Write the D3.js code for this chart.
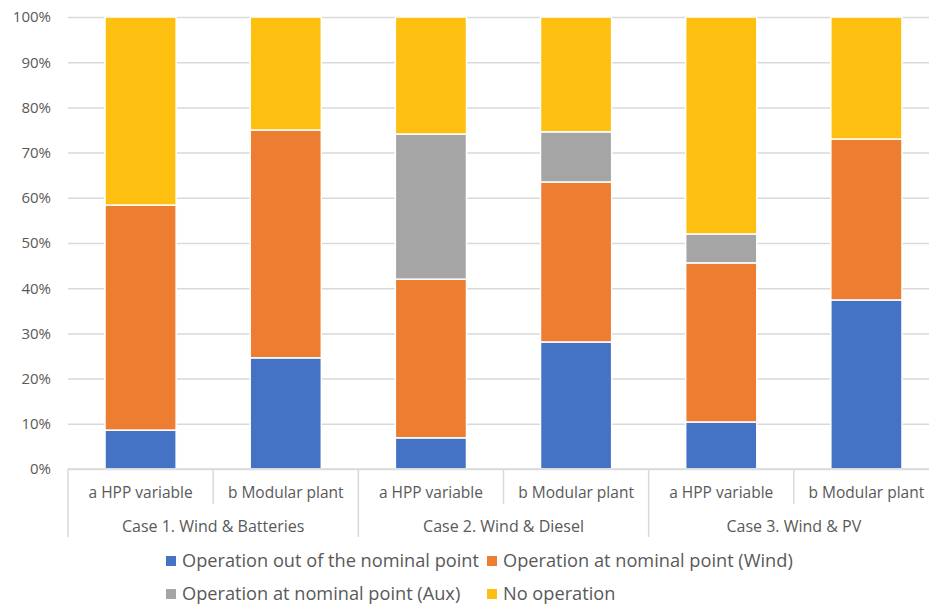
<!DOCTYPE html>
<html>
<head>
<meta charset="utf-8">
<script src="https://cdn.jsdelivr.net/npm/d3@7"></script>
<style>
  html, body { margin: 0; padding: 0; background: #fff; }
  svg { display: block; font-family: "Open Sans", "Liberation Sans", sans-serif; }
</style>
</head>
<body>
<svg id="chart" width="929" height="606"></svg>
<script>
// Groups and their sub-categories (two-level x axis)
const groups = ["Case 1. Wind & Batteries", "Case 2. Wind & Diesel", "Case 3. Wind & PV"];
const variants = ["a HPP variable", "b Modular plant"];

// Share of time (%) in each operating state, one value per bar
const outOfNominal = [8.6, 24.6, 6.9, 28.1, 10.4, 37.4];
const nominalWind  = [49.8, 50.4, 35.1, 35.4, 35.2, 35.6];
const nominalAux   = [0.0, 0.0, 32.1, 11.1, 6.4, 0.0];
const noOperation  = [41.6, 25.0, 25.9, 25.4, 48.0, 27.0];

const seriesNames = [
  "Operation out of the nominal point",
  "Operation at nominal point (Wind)",
  "Operation at nominal point (Aux)",
  "No operation"
];
const yTicks = [0, 10, 20, 30, 40, 50, 60, 70, 80, 90, 100];

const colors = ["#4472C4", "#ED7D31", "#A5A5A5", "#FDC010"];

// Build rows for the stack layout
const rows = [];
groups.forEach((g, gi) => {
  variants.forEach((v, vi) => {
    const i = gi * variants.length + vi;
    rows.push({
      key: g + "|" + v, group: g, variant: v,
      s0: outOfNominal[i], s1: nominalWind[i], s2: nominalAux[i], s3: noOperation[i]
    });
  });
});

const svg = d3.select("#chart");
const margin = { left: 68, right: -10, top: 17, bottom: 137 };
const W = 929, H = 606;
const x0 = margin.left, x1 = W - margin.right;
const yTop = margin.top, yBot = H - margin.bottom;

const x = d3.scaleBand().domain(rows.map(d => d.key)).range([x0, x1]).paddingInner(0.51).paddingOuter(0.255);
const xGroup = d3.scaleBand().domain(groups).range([x0, x1]);
const y = d3.scaleLinear().domain([0, 100]).range([yBot, yTop]);

const textColor = "#595959";
const lineColor = "#D9D9D9";

// Horizontal gridlines with percentage labels
const yAxis = d3.axisLeft(y).tickValues(yTicks).tickFormat(d => d + "%").tickSize(-(x1 - x0)).tickPadding(17);
const gy = svg.append("g").attr("transform", `translate(${x0},0)`).call(yAxis);
gy.select(".domain").remove();
gy.selectAll(".tick line").attr("stroke", lineColor).attr("stroke-width", 1.5);
gy.selectAll(".tick text").attr("fill", textColor).style("font-size", "15px").style("font-family", "'Open Sans', sans-serif");

// Stacked bars
const stack = d3.stack().keys(["s0", "s1", "s2", "s3"]);
const layers = stack(rows);
svg.append("g").selectAll("g").data(layers).join("g")
  .attr("fill", (d, i) => colors[i])
  .selectAll("rect").data(d => d.filter(p => p[1] - p[0] > 0)).join("rect")
  .attr("x", d => x(d.data.key))
  .attr("width", x.bandwidth())
  .attr("y", d => y(d[1]))
  .attr("height", d => y(d[0]) - y(d[1]))
  .attr("stroke", "#fff")
  .attr("stroke-width", 1.5);

// Category axis: baseline, separators and two rows of labels
const axisG = svg.append("g");
axisG.append("line").attr("x1", x0).attr("x2", x1).attr("y1", yBot).attr("y2", yBot)
  .attr("stroke", lineColor).attr("stroke-width", 1.5);

const subBottom = yBot + 35, groupBottom = yBot + 68;
rows.forEach((d, i) => {
  const left = x(d.key) - x.step() * x.paddingInner() / 2;
  const isGroupEdge = i % variants.length === 0;
  axisG.append("line")
    .attr("x1", left).attr("x2", left)
    .attr("y1", yBot).attr("y2", isGroupEdge ? groupBottom : subBottom)
    .attr("stroke", lineColor).attr("stroke-width", 1.5);
  axisG.append("text")
    .attr("x", x(d.key) + x.bandwidth() / 2)
    .attr("y", yBot + 29)
    .attr("text-anchor", "middle")
    .attr("fill", textColor)
    .style("font-size", "15.5px")
    .text(d.variant);
});
groups.forEach(g => {
  axisG.append("text")
    .attr("x", xGroup(g) + xGroup.bandwidth() / 2)
    .attr("y", yBot + 63)
    .attr("text-anchor", "middle")
    .attr("fill", textColor)
    .style("font-size", "16px")
    .text(g);
});

// Legend in two rows of two entries
const legendCols = [166, 487];
const legendRows = [561, 594];
const legend = svg.append("g");
seriesNames.forEach((name, i) => {
  const cx = legendCols[i % 2], cy = legendRows[Math.floor(i / 2)];
  legend.append("rect").attr("x", cx).attr("y", cy - 5).attr("width", 10).attr("height", 10).attr("fill", colors[i]);
  legend.append("text").attr("x", cx + 16).attr("y", cy).attr("dy", "0.35em")
    .attr("fill", textColor).style("font-size", "18.2px").text(name);
});
</script>
</body>
</html>
